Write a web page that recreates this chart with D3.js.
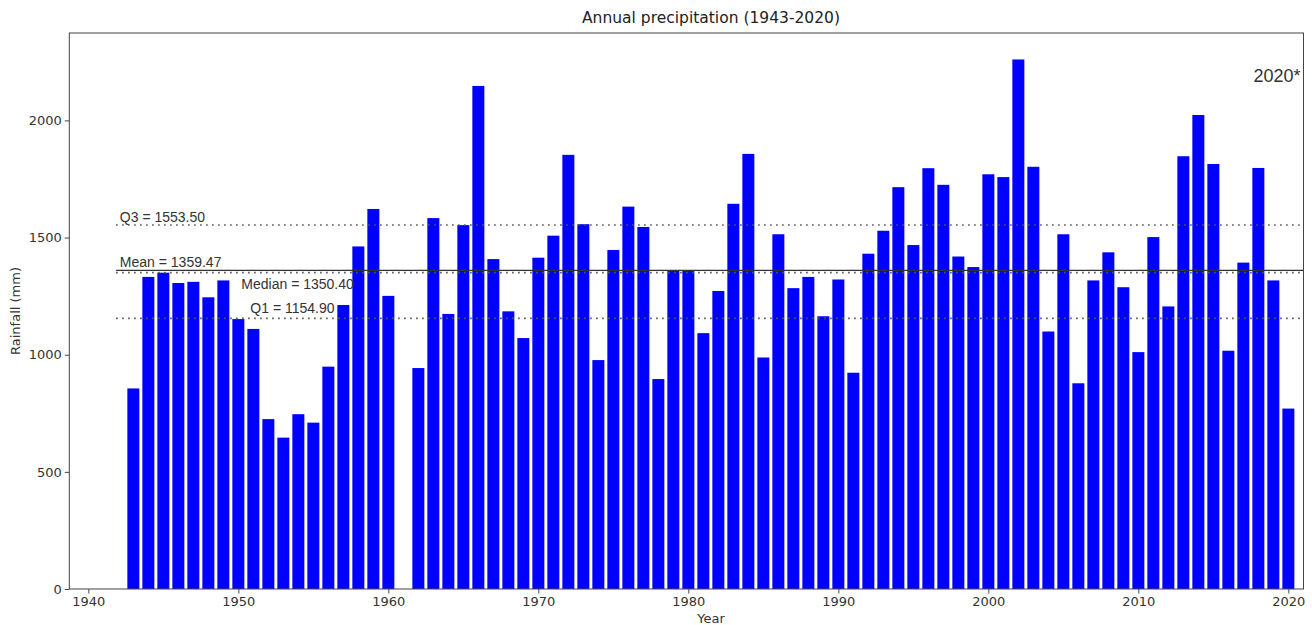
<!DOCTYPE html>
<html>
<head>
<meta charset="utf-8">
<script src="https://cdn.jsdelivr.net/npm/d3@7"></script>
<style>
  html, body { margin: 0; padding: 0; background: #fff; }
  svg { display: block; }
</style>
</head>
<body>
<svg id="chart" width="1312" height="625"></svg>
<script>
// ---- data ----
const years = [1943,1944,1945,1946,1947,1948,1949,1950,1951,1952,1953,1954,1955,1956,1957,1958,1959,1960,
  1962,1963,1964,1965,1966,1967,1968,1969,1970,1971,1972,1973,1974,1975,1976,1977,1978,1979,1980,
  1981,1982,1983,1984,1985,1986,1987,1988,1989,1990,1991,1992,1993,1994,1995,1996,1997,1998,1999,2000,
  2001,2002,2003,2004,2005,2006,2007,2008,2009,2010,2011,2012,2013,2014,2015,2016,2017,2018,2019,2020];
const rainfall = [856,1332,1350,1306,1311,1245,1317,1152,1110,725,646,746,710,949,1212,1462,1622,1251,
  943,1583,1174,1553,2147,1408,1185,1071,1414,1508,1853,1557,977,1447,1632,1545,896,1359,1359,
  1092,1272,1644,1857,988,1514,1284,1332,1164,1321,923,1431,1529,1715,1468,1796,1725,1419,1374,1770,
  1758,2260,1802,1099,1514,878,1317,1437,1288,1011,1502,1206,1847,2023,1814,1017,1393,1797,1317,770];
const statNames = ["Q3", "Mean", "Median", "Q1"];
const statValues = [1553.50, 1359.47, 1350.40, 1154.90];
const xTicks = [1940,1950,1960,1970,1980,1990,2000,2010,2020];
const yTicks = [0,500,1000,1500,2000];
const titleText = "Annual precipitation (1943-2020)";
const xLabel = "Year";
const yLabel = "Rainfall (mm)";
const noteText = "2020*";

// ---- layout ----
const svg = d3.select("#chart");
const L = 69.3, R = 1303.5, T = 33, B = 589;
const x = d3.scaleLinear().domain([1938.73, 2021.01]).range([L, R]);
const y = d3.scaleLinear().domain([0, 2373]).range([B, T]);
const barW = 0.8;
const lineStart = 1941.85;
const labelCenterX = 711;

// bars
svg.append("g").selectAll("rect").data(years).join("rect")
  .attr("x", (d) => x(d - barW / 2))
  .attr("width", (d) => x(d + barW / 2) - x(d - barW / 2))
  .attr("y", (d, i) => y(rainfall[i]))
  .attr("height", (d, i) => B - y(rainfall[i]))
  .attr("fill", "#0000ff");

// stat lines
const lineStyle = { Q3: "dot", Mean: "solid", Median: "dot", Q1: "dot" };
statNames.forEach((n, i) => {
  const ln = svg.append("line")
    .attr("x1", x(lineStart)).attr("x2", R)
    .attr("y1", y(statValues[i])).attr("y2", y(statValues[i]));
  if (lineStyle[n] === "solid") {
    ln.attr("stroke", "#333").attr("stroke-width", 1.3);
  } else {
    ln.attr("stroke", "#555").attr("stroke-width", 1.6).attr("stroke-dasharray", "1.6,4.4");
  }
});

// stat labels
const labelPos = {
  Q3: { yr: 1942.1, dy: -3 },
  Mean: { yr: 1942.1, dy: -3 },
  Median: { yr: 1950.2, dy: 16 },
  Q1: { yr: 1950.8, dy: -5 }
};
statNames.forEach((n, i) => {
  svg.append("text")
    .attr("x", x(labelPos[n].yr))
    .attr("y", y(statValues[i]) + labelPos[n].dy)
    .attr("font-family", "Liberation Sans, Arial, sans-serif")
    .attr("font-size", 14)
    .attr("fill", "#333")
    .text(n + " = " + statValues[i].toFixed(2));
});

// note
svg.append("text")
  .attr("x", R - 3).attr("y", 82)
  .attr("text-anchor", "end")
  .attr("font-family", "Liberation Sans, Arial, sans-serif")
  .attr("font-size", 18)
  .attr("fill", "#333")
  .text(noteText);

// axes
const font = "DejaVu Sans, sans-serif";
const xAxis = svg.append("g").attr("transform", `translate(0,${B})`)
  .call(d3.axisBottom(x).tickValues(xTicks).tickFormat(d3.format("d")).tickSize(4.5).tickPadding(3));
const yAxis = svg.append("g").attr("transform", `translate(${L},0)`)
  .call(d3.axisLeft(y).tickValues(yTicks).tickFormat(d3.format("d")).tickSize(4.5).tickPadding(3));
[xAxis, yAxis].forEach(a => {
  a.select(".domain").remove();
  a.selectAll("line").attr("stroke", "#444");
  a.selectAll("text").attr("font-family", font).attr("font-size", 13).attr("fill", "#333");
});

// frame
svg.append("rect").attr("x", L).attr("y", T).attr("width", R - L).attr("height", B - T)
  .attr("fill", "none").attr("stroke", "#444").attr("stroke-width", 1);

// title and labels
svg.append("text").attr("x", labelCenterX).attr("y", 23).attr("text-anchor", "middle")
  .attr("font-family", font).attr("font-size", 15.5).attr("fill", "#222").text(titleText);
svg.append("text").attr("x", labelCenterX).attr("y", 623).attr("text-anchor", "middle")
  .attr("font-family", font).attr("font-size", 13).attr("fill", "#333").text(xLabel);
svg.append("text").attr("transform", `translate(20,${(T + B) / 2}) rotate(-90)`).attr("text-anchor", "middle")
  .attr("font-family", font).attr("font-size", 13).attr("fill", "#333").text(yLabel);
</script>
</body>
</html>
